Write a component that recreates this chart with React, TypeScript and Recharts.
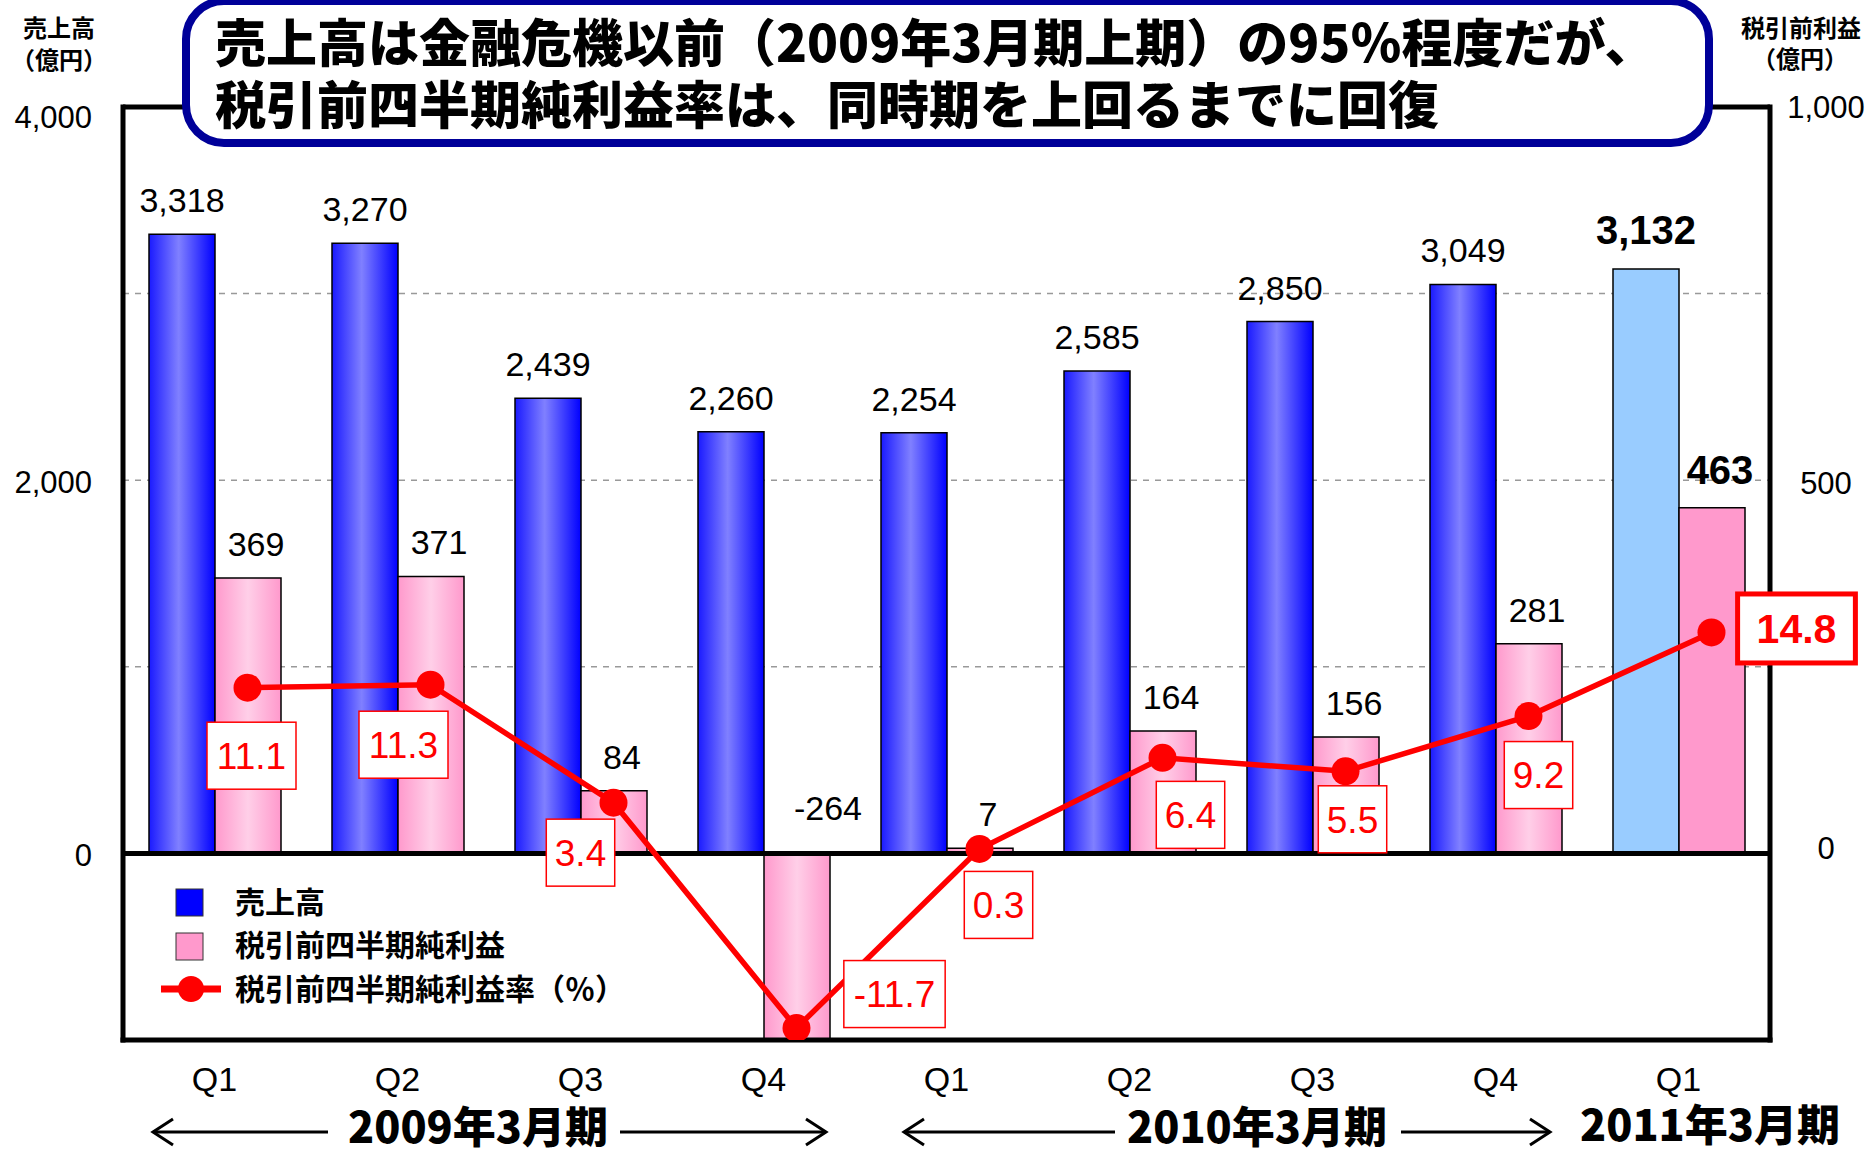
import {
  Bar,
  CartesianGrid,
  Cell,
  ComposedChart,
  LabelList,
  Legend,
  Line,
  ReferenceLine,
  XAxis,
  YAxis,
} from 'recharts'

const quarters = ['Q1', 'Q2', 'Q3', 'Q4', 'Q1', 'Q2', 'Q3', 'Q4', 'Q1']
const sales = [3318, 3270, 2439, 2260, 2254, 2585, 2850, 3049, 3132]
const profit = [369, 371, 84, -264, 7, 164, 156, 281, 463]
const rate = [11.1, 11.3, 3.4, -11.7, 0.3, 6.4, 5.5, 9.2, 14.8]

const salesTicks = [0, 1000, 2000, 3000, 4000]
const salesLabelled = [0, 2000, 4000]
const profitTicks = [0, 500, 1000]
const periods = ['2009年3月期', '2010年3月期', '2011年3月期']

const chartData = quarters.map((q, i) => ({
  q,
  idx: i,
  sales: sales[i],
  profit: profit[i],
  rate: rate[i],
}))

const last = quarters.length - 1
const numFont = '"Liberation Sans", Arial, sans-serif'
const jpFont = '"Noto Sans CJK JP", "Noto Sans", sans-serif'

// the rate line sits over the profit bars: shift its x scale by half a bar
const lineShift = 33 / 183

// where each rate box sits relative to its point
const rateBoxShift = [
  [4, 68], [-27, 60], [-33, 50], [98, -34], [19, 56],
  [28, 57], [7, 48], [10, 59], [85, -4],
]

const fmt = (v: number) => v.toLocaleString('en-US')

const textWidth = (s: string, size: number) => {
  let w = 0
  for (const ch of s) w += ch === '.' ? 0.278 : ch === '-' ? 0.333 : 0.556
  return w * size
}

function SalesLabel(props: any) {
  const x = Number(props.x), y = Number(props.y)
  const width = Number(props.width), height = Number(props.height)
  const top = Math.min(y, y + height)
  const bold = props.index === last
  return (
    <text
      x={x + width / 2}
      y={top - (bold ? 25 : 22)}
      textAnchor='middle'
      fontFamily={numFont}
      fontSize={bold ? 40 : 34}
      fontWeight={bold ? 700 : 400}
      fill='#000'
    >
      {fmt(props.value)}
    </text>
  )
}

function ProfitLabel(props: any) {
  const x = Number(props.x), y = Number(props.y)
  const width = Number(props.width), height = Number(props.height)
  const top = Math.min(y, y + height)
  const bold = props.index === last
  const neg = props.value < 0
  return (
    <text
      x={x + width / 2 + (neg ? 31 : 8)}
      y={top - (neg ? 33 : bold ? 24 : 22)}
      textAnchor='middle'
      fontFamily={numFont}
      fontSize={bold ? 40 : 34}
      fontWeight={bold ? 700 : 400}
      fill='#000'
    >
      {fmt(props.value)}
    </text>
  )
}

function RateLabel(props: any) {
  const x = Number(props.x), y = Number(props.y)
  const [dx, dy] = rateBoxShift[props.index] || [0, 50]
  const bold = props.index === last
  const fs = bold ? 41 : 37
  const txt = Number(props.value).toFixed(1)
  const w = textWidth(txt, fs) + (bold ? 38 : 17)
  const h = bold ? 69 : 67
  const cx = x + dx
  const cy = y + dy
  return (
    <g>
      <rect
        x={cx - w / 2}
        y={cy - h / 2}
        width={w}
        height={h}
        fill='#fff'
        stroke='#ff0000'
        strokeWidth={bold ? 5 : 1.5}
      />
      <text
        x={cx}
        y={cy + fs * 0.36}
        textAnchor='middle'
        fontFamily={numFont}
        fontSize={fs}
        fontWeight={bold ? 700 : 400}
        fill='#ff0000'
      >
        {txt}
      </text>
    </g>
  )
}

function LeftTick(props: any) {
  const v = props.payload.value
  if (!salesLabelled.includes(v)) return null
  return (
    <text
      x={props.x - 31}
      y={props.y + (v === 4000 ? 10 : 2) + 11}
      textAnchor='end'
      fontFamily={numFont}
      fontSize={31}
      fill='#000'
    >
      {fmt(v)}
    </text>
  )
}

function RightTick(props: any) {
  const v = props.payload.value
  return (
    <text
      x={props.x + 56}
      y={props.y + (v === 0 ? -5 : v === 500 ? 3 : 0) + 11}
      textAnchor='middle'
      fontFamily={numFont}
      fontSize={31}
      fill='#000'
    >
      {fmt(v)}
    </text>
  )
}

function QuarterTick(props: any) {
  return (
    <text
      x={props.x}
      y={props.y + 51}
      textAnchor='middle'
      fontFamily={numFont}
      fontSize={34}
      fill='#000'
    >
      {props.payload.value}
    </text>
  )
}

function LegendBox() {
  const t = { fontFamily: jpFont, fontSize: 30, fontWeight: 700, fill: '#000' }
  return (
    <svg width={520} height={140}>
      <rect x={21} y={14} width={27} height={27} fill='#0000ff' stroke='#333' />
      <text x={80} y={38} {...t}>売上高</text>
      <rect x={21} y={58} width={27} height={27} fill='#ff99cc' stroke='#333' />
      <text x={80} y={81} {...t}>税引前四半期純利益</text>
      <line x1={6} x2={66} y1={114} y2={114} stroke='#ff0000' strokeWidth={7} />
      <circle cx={36} cy={114} r={13} fill='#ff0000' />
      <text x={80} y={125} {...t}>税引前四半期純利益率（％）</text>
    </svg>
  )
}

const arrows = [
  { from: 328, to: 153 },
  { from: 620, to: 826 },
  { from: 1115, to: 904 },
  { from: 1401, to: 1550 },
]
const periodX = [478, 1257, 1710]

export default function App() {
  const border = { stroke: '#000', strokeWidth: 5, strokeLinecap: 'square' as const }
  return (
    <div style={{ position: 'relative', width: 1870, height: 1155, background: '#fff' }}>
      <style>{'body{margin:0}'}</style>
      <ComposedChart
        width={1870}
        height={1155}
        data={chartData}
        margin={{ top: 107, right: 20, bottom: 55, left: 23 }}
        barGap={0}
        barSize={66}
      >
        <defs>
          <linearGradient id='blueBar' x1='0' y1='0' x2='1' y2='0'>
            <stop offset='0%' stopColor='#1a1aff' />
            <stop offset='45%' stopColor='#8080ff' />
            <stop offset='100%' stopColor='#0000ff' />
          </linearGradient>
          <linearGradient id='pinkBar' x1='0' y1='0' x2='1' y2='0'>
            <stop offset='0%' stopColor='#ff99cc' />
            <stop offset='50%' stopColor='#ffcfe8' />
            <stop offset='100%' stopColor='#ff99cc' />
          </linearGradient>
        </defs>
        <CartesianGrid
          yAxisId='left'
          vertical={false}
          stroke='#999999'
          strokeWidth={1.5}
          strokeDasharray='6 6'
        />
        <XAxis
          dataKey='q'
          interval={0}
          height={60}
          axisLine={border}
          tickLine={false}
          tickSize={0}
          tickMargin={0}
          tick={<QuarterTick />}
        />
        <XAxis
          xAxisId='line'
          dataKey='idx'
          type='number'
          hide
          domain={[-0.5 - lineShift, last + 0.5 - lineShift]}
          allowDataOverflow
        />
        <YAxis
          yAxisId='left'
          domain={[-1000, 4000]}
          ticks={salesTicks}
          allowDataOverflow
          width={100}
          axisLine={border}
          tickLine={false}
          tickSize={0}
          tickMargin={0}
          tick={<LeftTick />}
        />
        <YAxis
          yAxisId='right'
          orientation='right'
          domain={[-250, 1000]}
          ticks={profitTicks}
          allowDataOverflow
          width={80}
          axisLine={border}
          tickLine={false}
          tickSize={0}
          tickMargin={0}
          tick={<RightTick />}
        />
        <YAxis yAxisId='pct' hide domain={[-12.5, 50]} allowDataOverflow />
        <Bar
          yAxisId='left'
          dataKey='sales'
          fill='url(#blueBar)'
          stroke='#000'
          strokeWidth={1.5}
          isAnimationActive={false}
        >
          {chartData.map((_, i) => (
            <Cell key={i} fill={i === last ? '#99ccff' : 'url(#blueBar)'} />
          ))}
          <LabelList dataKey='sales' content={<SalesLabel />} />
        </Bar>
        <Bar
          yAxisId='right'
          dataKey='profit'
          fill='url(#pinkBar)'
          stroke='#000'
          strokeWidth={1.5}
          isAnimationActive={false}
        >
          {chartData.map((_, i) => (
            <Cell key={i} fill={i === last ? '#ff99cc' : 'url(#pinkBar)'} />
          ))}
          <LabelList dataKey='profit' content={<ProfitLabel />} />
        </Bar>
        <ReferenceLine yAxisId='left' y={0} stroke='#000' strokeWidth={5} ifOverflow='visible' />
        <ReferenceLine yAxisId='left' y={4000} stroke='#000' strokeWidth={5} ifOverflow='visible' />
        <Line
          xAxisId='line'
          yAxisId='pct'
          dataKey='rate'
          stroke='#ff0000'
          strokeWidth={5.5}
          dot={{ r: 14, fill: '#ff0000', stroke: 'none' }}
          activeDot={false}
          isAnimationActive={false}
        >
          <LabelList dataKey='rate' content={<RateLabel />} />
        </Line>
        <Legend
          layout='vertical'
          align='center'
          verticalAlign='middle'
          content={<LegendBox />}
          wrapperStyle={{ left: 155, top: 875, width: 520, height: 140 }}
        />
      </ComposedChart>

      <svg
        width={1870}
        height={1155}
        style={{ position: 'absolute', left: 0, top: 0, pointerEvents: 'none' }}
      >
        <g fontFamily={jpFont} fontWeight={700} fontSize={24} fill='#000' textAnchor='middle'>
          <text x={59} y={37}>売上高</text>
          <text x={59} y={69}>（億円）</text>
          <text x={1801} y={37}>税引前利益</text>
          <text x={1800} y={68}>（億円）</text>
        </g>
        <rect x={186} y={1} width={1523} height={142} rx={38} fill='#fff' stroke='#000099' strokeWidth={8} />
        <g fontFamily={jpFont} fontWeight={900} fontSize={51} fill='#000'>
          <text x={215} y={62}>売上高は金融危機以前（2009年3月期上期）の95％程度だが、</text>
          <text x={215} y={124}>税引前四半期純利益率は、同時期を上回るまでに回復</text>
        </g>
        <g stroke='#000' strokeWidth={3} fill='none'>
          {arrows.map((a, i) => {
            const d = a.to > a.from ? -1 : 1
            return (
              <g key={i}>
                <line x1={a.from} x2={a.to} y1={1132} y2={1132} />
                <polyline points={`${a.to + d * 20},${1119} ${a.to},${1132} ${a.to + d * 20},${1145}`} />
              </g>
            )
          })}
        </g>
        <g fontFamily={jpFont} fontWeight={900} fontSize={43} fill='#000' textAnchor='middle'>
          {periods.map((p, i) => (
            <text key={p} x={periodX[i]} y={i === 2 ? 1141 : 1143}>{p}</text>
          ))}
        </g>
      </svg>
    </div>
  )
}
